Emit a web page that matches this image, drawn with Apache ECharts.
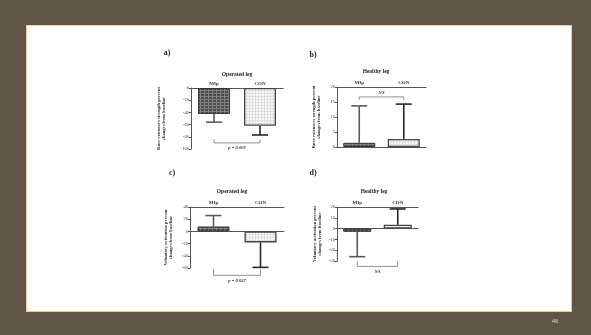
<!DOCTYPE html>
<html>
<head>
<meta charset="utf-8">
<script src="https://cdn.jsdelivr.net/npm/echarts@6/dist/echarts.min.js"></script>
<style>
    html, body { margin: 0; padding: 0; background: #5f5648; }
    #slide {
        position: absolute; left: 26px; top: 25px; width: 546px; height: 287px;
        background: #fff; border: 1px solid #f2c893; box-sizing: border-box;
    }
    #chart { position: absolute; left: 0; top: 0; width: 591px; height: 335px; }
</style>
</head>
<body>
<div id="slide"></div>
<div id="chart"></div>
<script>
// groups on the x axis
const groups = ['MIp', 'CON'];

// a) knee extensors strength, operated leg
const strengthOperated = [-42.5, -62];
const strengthOperatedErr = [13.5, 15];
// b) knee extensors strength, healthy leg
const strengthHealthy = [1.4, 2.7];
const strengthHealthyErr = [12.3, 11.6];
// c) voluntary activation, operated leg
const activationOperated = [8, -18];
const activationOperatedErr = [18, 41];
// d) voluntary activation, healthy leg
const activationHealthy = [-3, 3.5];
const activationHealthyErr = [23, 14.7];

// significance brackets
const bracketText = ['p = 0.005', 'NS', 'p = 0.027', 'NS'];
const bracketLevel = [-90, 16.7, -72, -35];
const bracketTip = [-84, 15.7, -62, -30];

// axis ranges
const yMin = [-100, 0, -60, -30];
const yMax = [0, 20, 40, 20];
const yStep = [20, 5, 20, 10];

const serif = '"Liberation Serif", "DejaVu Serif", serif';

const makePattern = (bg, line, w, h) => {
    const c = document.createElement('canvas');
    c.width = w;
    c.height = h;
    const ctx = c.getContext('2d');
    ctx.fillStyle = bg;
    ctx.fillRect(0, 0, w, h);
    ctx.fillStyle = line;
    ctx.fillRect(0, 0, w, 1);
    ctx.fillRect(0, 0, 1, h);
    return c;
};

const mipStyle = {
    color: { image: makePattern('#4b4b4b', '#808080', 4, 3), repeat: 'repeat' },
    borderColor: '#333',
    borderWidth: 1
};
const conStyle = {
    color: { image: makePattern('#f8f8f8', '#dedede', 3, 3), repeat: 'repeat' },
    borderColor: '#444',
    borderWidth: 1.3
};
const errColors = ['#5a5a5a', '#262626'];

const panels = [
    { means: strengthOperated, errs: strengthOperatedErr, grid: { left: 191, top: 88, width: 92, height: 61 },
      name: 'Knee extensors strength percent\nchanges from baseline', nameGap: 24 },
    { means: strengthHealthy, errs: strengthHealthyErr, grid: { left: 337, top: 87, width: 89, height: 60 },
      name: 'Knee extensors strength percent\nchanges from baseline', nameGap: 15 },
    { means: activationOperated, errs: activationOperatedErr, grid: { left: 190, top: 207, width: 94, height: 61 },
      name: 'Voluntary activation percent\nchanges from baseline', nameGap: 16 },
    { means: activationHealthy, errs: activationHealthyErr, grid: { left: 337, top: 207, width: 81, height: 54 },
      name: 'Voluntary activation percent\nchanges from baseline', nameGap: 14 }
];

const grids = [];
const xAxes = [];
const yAxes = [];
const series = [];

panels.forEach((p, i) => {
    grids.push(p.grid);
    // labelled axis along the top
    xAxes.push({
        type: 'category', data: groups, gridIndex: i, position: 'top',
        axisLine: { onZero: false, lineStyle: { color: '#555', width: 1 } },
        axisTick: { alignWithLabel: true, length: 2, lineStyle: { color: '#555' } },
        axisLabel: { fontSize: 5, margin: 2, color: '#333', fontFamily: serif, fontWeight: 'bold' }
    });
    // plain line through zero
    xAxes.push({
        type: 'category', data: groups, gridIndex: i, position: 'bottom',
        axisLine: { onZero: true, lineStyle: { color: '#555', width: 1 } },
        axisTick: { show: false }, axisLabel: { show: false }
    });
    yAxes.push({
        type: 'value', gridIndex: i, min: yMin[i], max: yMax[i], interval: yStep[i],
        axisLine: { show: true, lineStyle: { color: '#555', width: 1 } },
        axisTick: { show: true, length: 2, lineStyle: { color: '#555' } },
        axisLabel: { fontSize: 4.5, margin: 2, color: '#444', fontFamily: serif },
        splitLine: { show: false },
        name: p.name, nameLocation: 'middle', nameRotate: 90, nameGap: p.nameGap,
        nameTextStyle: { fontSize: 4.6, lineHeight: 5.5, color: '#333', fontFamily: serif, fontWeight: 'bold' }
    });

    series.push({
        type: 'custom', xAxisIndex: i * 2, yAxisIndex: i, z: 1, silent: true,
        data: p.means.map((m, k) => [k, m, p.errs[k]]),
        renderItem: (params, api) => {
            const k = api.value(0);
            const m = api.value(1);
            const e = api.value(2);
            const a = api.coord([k, m]);
            const b = api.coord([k, m < 0 ? m - e : m + e]);
            const st = { stroke: errColors[k], lineWidth: 1.6 };
            return {
                type: 'group',
                children: [
                    { type: 'line', shape: { x1: a[0], y1: a[1], x2: b[0], y2: b[1] }, style: st },
                    { type: 'line', shape: { x1: b[0] - 8, y1: b[1], x2: b[0] + 8, y2: b[1] }, style: st }
                ]
            };
        }
    });

    series.push({
        type: 'bar', xAxisIndex: i * 2, yAxisIndex: i, z: 2, barWidth: i === 3 ? 28 : 32, silent: true,
        data: p.means.map((m, k) => ({ value: m, itemStyle: k === 0 ? mipStyle : conStyle }))
    });

    series.push({
        type: 'custom', xAxisIndex: i * 2, yAxisIndex: i, z: 3, clip: false, silent: true,
        data: [[0, bracketLevel[i], bracketTip[i]]],
        renderItem: (params, api) => {
            const l = api.coord([0, api.value(1)]);
            const r = api.coord([1, api.value(1)]);
            const t = api.coord([0, api.value(2)]);
            const st = { stroke: '#777', lineWidth: 0.8 };
            const below = t[1] < l[1];
            return {
                type: 'group',
                children: [
                    { type: 'line', shape: { x1: l[0], y1: l[1], x2: r[0], y2: r[1] }, style: st },
                    { type: 'line', shape: { x1: l[0], y1: l[1], x2: l[0], y2: t[1] }, style: st },
                    { type: 'line', shape: { x1: r[0], y1: r[1], x2: r[0], y2: t[1] }, style: st },
                    { type: 'text', x: (l[0] + r[0]) / 2, y: below ? l[1] + 5 : l[1] - 4,
                      style: { text: bracketText[i], fontSize: 4.6, fill: '#333', fontFamily: serif,
                               fontStyle: 'italic', fontWeight: 'bold', align: 'center', verticalAlign: 'middle' } }
                ]
            };
        }
    });
});

const headText = (x, y, text, size) => ({
    type: 'text', x: x, y: y,
    style: { text: text, fontSize: size, fontFamily: serif, fontWeight: 'bold', fill: '#222',
             align: 'center', verticalAlign: 'middle' }
});

const myChart = echarts.init(document.getElementById('chart'));
myChart.setOption({
    animation: false,
    grid: grids,
    xAxis: xAxes,
    yAxis: yAxes,
    series: series,
    graphic: [
        headText(167, 53, 'a)', 8),
        headText(313, 55, 'b)', 8),
        headText(172, 173, 'c)', 8),
        headText(313, 173, 'd)', 8),
        headText(237, 75, 'Operated leg', 5.5),
        headText(376, 72, 'Healthy leg', 5.5),
        headText(232, 192, 'Operated leg', 5.5),
        headText(374, 192, 'Healthy leg', 5.5),
        { type: 'text', x: 555, y: 321,
          style: { text: '46', fontSize: 6, fontFamily: 'Liberation Sans', fill: '#cfcfcf',
                   align: 'center', verticalAlign: 'middle' } }
    ]
});
</script>
</body>
</html>
